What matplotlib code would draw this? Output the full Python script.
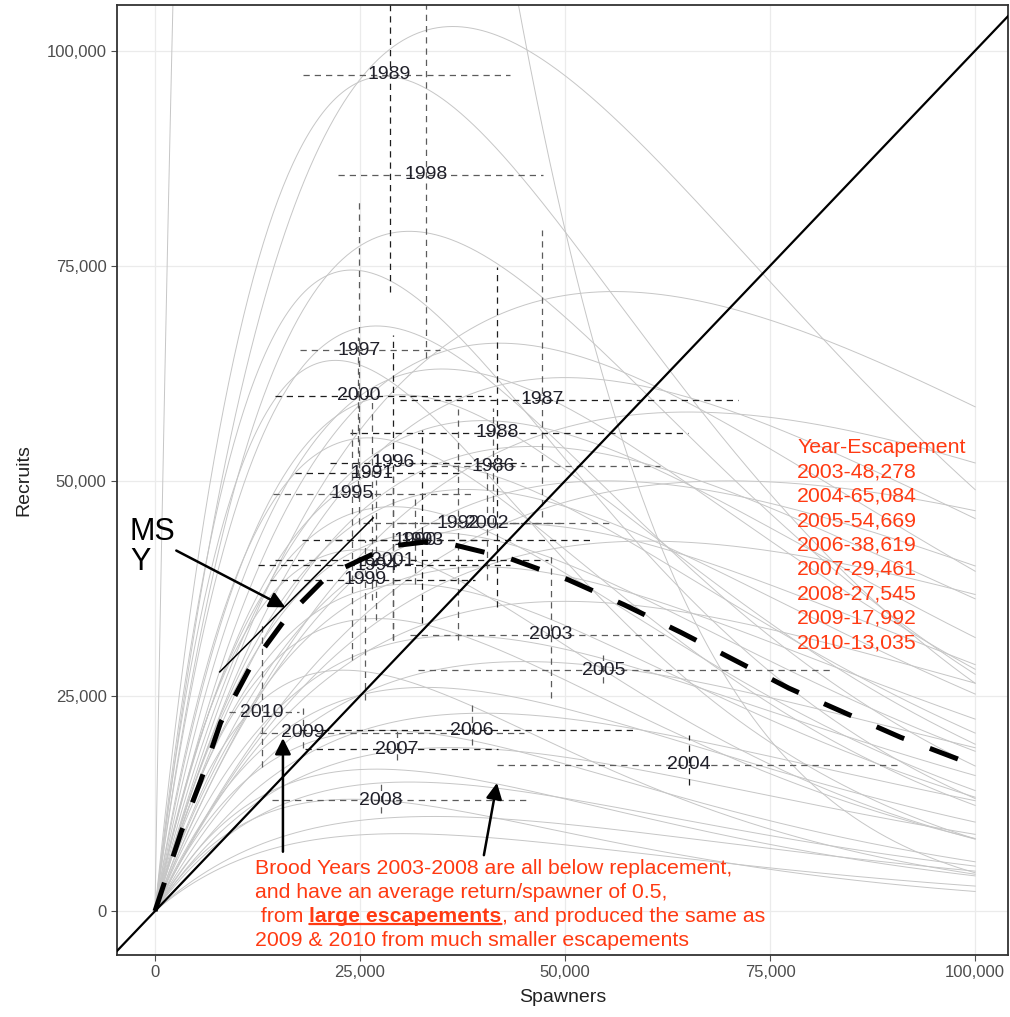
import numpy as np
import matplotlib
matplotlib.use('Agg')
import matplotlib.pyplot as plt
from matplotlib.ticker import FuncFormatter

plt.rcParams['font.family'] = ['Liberation Sans', 'DejaVu Sans']

# brood-year estimates (fish) with their credible ranges
years = [1986, 1987, 1988, 1989, 1990, 1991, 1992, 1993, 1994, 1995, 1996, 1997, 1998,
         1999, 2000, 2001, 2002, 2003, 2004, 2005, 2006, 2007, 2008, 2009, 2010]
spawners = [41200, 47200, 41700, 28600, 31700, 26500, 37000, 32600, 27000, 24000, 29000, 24900, 33000,
            25600, 24800, 29000, 40500, 48278, 65084, 54669, 38619, 29461, 27545, 17992, 13035]
recruits = [51700, 59400, 55600, 97200, 43100, 50900, 45100, 43100, 40200, 48500, 52100, 65200, 85600,
            38500, 59900, 40800, 45100, 32100, 17000, 28000, 21000, 18800, 12900, 20700, 23100]
spawn_lo = [33500, 29900, 23800, 18000, 22000, 17100, 25400, 17900, 12600, 14400, 21300, 17700, 22300,
            14000, 14600, 14600, 29900, 31100, 41700, 32100, 17700, 18300, 14300, 12800, 9000]
spawn_hi = [61600, 71100, 65000, 43300, 40000, 37600, 49400, 53300, 43300, 38800, 45000, 34800, 47300,
            39000, 41000, 47900, 55500, 62400, 90900, 82700, 58800, 41800, 45400, 45000, 17500]
rec_lo = [45000, 45800, 35300, 71900, 38000, 36200, 31500, 33500, 33800, 29200, 31500, 45000, 64300,
          24500, 48000, 31500, 38500, 24800, 14700, 26500, 19300, 17600, 11400, 19000, 16700]
rec_hi = [58500, 79200, 74800, 125000, 48000, 59800, 58300, 55900, 50100, 56000, 67000, 82700, 125000,
          43100, 66700, 51300, 51300, 41400, 20500, 29800, 24000, 21300, 14900, 23600, 33500]

# posterior Ricker draws, each given by where it peaks (spawners, recruits)
draw_peak_s = [14000, 36300, 28000, 31000, 24000, 56000, 27000, 42000, 22000, 35000, 50000, 30000,
               65000, 40000, 26000, 46000, 33000, 55000, 38000, 29000, 44000, 34000, 60000, 25000,
               40000, 31000, 50000, 27000, 37000, 45000, 23000, 33000, 40000, 28000, 36000, 27000,
               31000, 24000, 34000, 30000, 70000]
draw_peak_r = [290000, 102800, 97000, 79000, 74500, 72000, 68000, 66000, 64000, 63000, 62000, 60000,
               58000, 57000, 55000, 54000, 52000, 50000, 49000, 47000, 45000, 44000, 43000, 42000,
               40000, 38000, 36000, 34000, 32000, 29000, 28000, 26000, 23000, 21000, 19000, 16500,
               15000, 13000, 11000, 9000, 50000]

# median fit
fit_s = [0, 3200, 5600, 8000, 11700, 16100, 21200, 28600, 33000, 36300, 43200, 50400, 57200,
         64100, 70600, 77300, 84200, 90900, 98100, 100000]
fit_r = [0, 9200, 15200, 21900, 28500, 34200, 39100, 42400, 42900, 42600, 41000, 38500, 35600,
         32400, 29200, 25900, 23000, 20200, 17600, 17000]

dark_h = {1987, 1988, 1990, 1991, 1993, 1994, 1996, 1999, 2000, 2001, 2006, 2007}
dark_v = {1988, 1989, 1993, 1996, 2004}

red = '#ff3a12'

fig = plt.figure(figsize=(10.1, 10.17), dpi=100)
ax = fig.add_axes([117 / 1010, 62 / 1017, 891 / 1010, 950 / 1017])

ax.set_xlim(-4630, 104000)
ax.set_ylim(-5100, 105300)
ticks = [0, 25000, 50000, 75000, 100000]
ax.set_xticks(ticks)
ax.set_yticks(ticks)
fmt = FuncFormatter(lambda v, p: '{:,.0f}'.format(v))
ax.xaxis.set_major_formatter(fmt)
ax.yaxis.set_major_formatter(fmt)
ax.grid(True, color='#ebebeb', lw=0.9, zorder=0)
ax.set_axisbelow(True)
ax.tick_params(colors='#4d4d4d', labelsize=12, length=4, width=0.8)
for sp in ax.spines.values():
    sp.set_color('#333333')
    sp.set_linewidth(1.3)
ax.set_xlabel('Spawners', fontsize=14, color='#222222', labelpad=6)
ax.set_ylabel('Recruits', fontsize=14, color='#222222', labelpad=10)

# spaghetti of Ricker curves
s_grid = np.linspace(0, 100000, 500)
for sm, rm in zip(draw_peak_s, draw_peak_r):
    ax.plot(s_grid, rm * (s_grid / sm) * np.exp(1 - s_grid / sm), color='#c6c6c6', lw=0.7, zorder=1)

# replacement line
ax.axline((0, 0), slope=1, color='black', lw=1.6, zorder=3)

# error bars per brood year
for i, yr in enumerate(years):
    ch = '#1e1e1e' if yr in dark_h else '#5c5c5c'
    cv = '#1e1e1e' if yr in dark_v else '#5c5c5c'
    ax.plot([spawn_lo[i], spawn_hi[i]], [recruits[i], recruits[i]], color=ch, lw=0.9,
            dashes=(5, 4), zorder=2)
    ax.plot([spawners[i], spawners[i]], [rec_lo[i], rec_hi[i]], color=cv, lw=0.9,
            dashes=(5, 4), zorder=2)
    ax.text(spawners[i], recruits[i], str(yr), fontsize=14, color='#20202a',
            ha='center', va='center', zorder=4)

# median fit
ax.plot(fit_s, fit_r, color='black', lw=3.6, dashes=(6, 5.5), dash_capstyle='butt', zorder=5)

# MSY callout
ax.text(-3050, 45800, 'MS\nY', fontsize=22, color='black', ha='left', va='top',
        linespacing=1.0, zorder=6)
ax.annotate('', xy=(15900, 35300), xytext=(2600, 41900),
            arrowprops=dict(arrowstyle='-|>', color='black', lw=1.8, mutation_scale=24,
                            shrinkA=0, shrinkB=0), zorder=6)
ax.plot([7900, 26600], [27800, 45700], color='black', lw=1.1, zorder=6)

# arrows to the recent brood years
for tail, head in [((15600, 6900), (15600, 20100)), ((40100, 6500), (41700, 14900))]:
    ax.annotate('', xy=head, xytext=tail,
                arrowprops=dict(arrowstyle='-|>', color='black', lw=1.8, mutation_scale=24,
                                shrinkA=0, shrinkB=0), zorder=6)

# escapement list
esc_lines = ['Year-Escapement'] + ['{}-{:,}'.format(y, s) for y, s in zip(years, spawners) if y >= 2003]
ax.text(78300, 55000, '\n'.join(esc_lines), fontsize=15.3, color=red, ha='left', va='top',
        linespacing=1.36, zorder=6)

# note on brood years 2003-2008
ax.text(12200, 4300, 'Brood Years 2003-2008 are all below replacement,', fontsize=15.3,
        color=red, va='baseline', zorder=6)
ax.text(12200, 1500, 'and have an average return/spawner of 0.5,', fontsize=15.3,
        color=red, va='baseline', zorder=6)
t1 = ax.text(12200, -1300, ' from ', fontsize=15.3, color=red, va='baseline', zorder=6)
t2 = ax.annotate('large escapements', xy=(1, 0), xycoords=t1, fontsize=15.3, color=red,
                 fontweight='bold', va='bottom', ha='left', zorder=6)
ax.annotate(', and produced the same as', xy=(1, 0), xycoords=t2, fontsize=15.3, color=red,
            va='bottom', ha='left', zorder=6)
ax.annotate('', xy=(0, 0.12), xycoords=t2, xytext=(1, 0.12), textcoords=t2,
            arrowprops=dict(arrowstyle='-', color=red, lw=1.6, shrinkA=0, shrinkB=0), zorder=6)
ax.text(12200, -4100, '2009 & 2010 from much smaller escapements', fontsize=15.3,
        color=red, va='baseline', zorder=6)

fig.savefig('out.png', dpi=100)
